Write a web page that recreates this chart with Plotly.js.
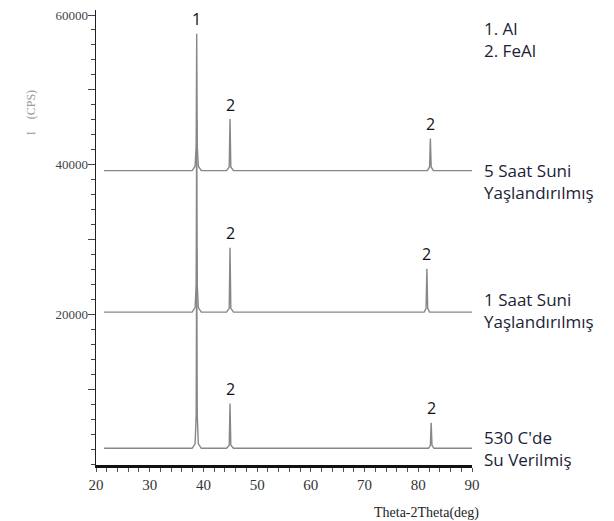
<!DOCTYPE html>
<html>
<head>
<meta charset="utf-8">
<script src="https://cdn.plot.ly/plotly-3.0.1.min.js"></script>
<style>html,body{margin:0;padding:0;background:#fff;}#chart{width:614px;height:521px;}</style>
</head>
<body>
<div id="chart"></div>
<script>
// 2-theta (deg) and intensity (CPS), one pair per sample
const thetaTop = [21.5, 37.9, 38.45, 38.65, 38.75, 38.85, 39.05, 39.6, 44.3, 44.8, 44.95, 45.1, 45.6, 81.7, 82.1, 82.25, 82.4, 82.8, 90];
const cpsTop   = [39200, 39200, 39800, 42500, 57500, 42500, 39800, 39200, 39200, 39700, 46100, 39700, 39200, 39200, 39700, 43500, 39700, 39200, 39200];

const thetaMid = [21.5, 37.9, 38.45, 38.65, 38.75, 38.85, 39.05, 39.6, 44.3, 44.8, 44.95, 45.1, 45.6, 81.1, 81.45, 81.6, 81.75, 82.1, 90];
const cpsMid   = [20300, 20300, 20900, 24000, 45900, 24000, 20900, 20300, 20300, 20800, 28900, 20800, 20300, 20300, 20800, 26100, 20800, 20300, 20300];

const thetaBot = [21.5, 37.9, 38.45, 38.65, 38.75, 38.85, 39.05, 39.6, 44.3, 44.8, 44.95, 45.1, 45.6, 81.9, 82.25, 82.4, 82.55, 82.9, 90];
const cpsBot   = [2100, 2100, 2700, 6500, 28500, 6500, 2700, 2100, 2100, 2500, 8100, 2500, 2100, 2100, 2500, 5500, 2500, 2100, 2100];

const sampleNames = ["5 Saat Suni<br>Yaşlandırılmış", "1 Saat Suni<br>Yaşlandırılmış", "530 C'de<br>Su Verilmiş"];
const phaseLegend = "1. Al<br>2. FeAl";
const xLabelVals = [20, 30, 40, 50, 60, 70, 80, 90];
const xMinorStep = 2;
const yLabelVals = [20000, 40000, 60000];
const yMediumVals = [10000, 20000, 30000, 40000, 50000, 60000];
const yMinorStep = 2000;

// build tick arrays (every minor step, labels only on labelled values)
const xTickVals = [], xTickText = [];
for (let v = 20; v <= 90; v += xMinorStep) { xTickVals.push(v); xTickText.push(xLabelVals.includes(v) ? String(v) : ''); }
const yTickVals = [], yTickText = [];
for (let v = 0; v <= 60000; v += yMinorStep) { yTickVals.push(v); yTickText.push(yLabelVals.includes(v) ? String(v) : ''); }

const lineStyle = {color: '#878787', width: 1.4};
const traces = [
  {x: thetaTop, y: cpsTop, mode: 'lines', line: lineStyle, hoverinfo: 'skip', showlegend: false},
  {x: thetaMid, y: cpsMid, mode: 'lines', line: lineStyle, hoverinfo: 'skip', showlegend: false},
  {x: thetaBot, y: cpsBot, mode: 'lines', line: lineStyle, hoverinfo: 'skip', showlegend: false},
  {x: [20], y: [0], yaxis: 'y2', mode: 'markers', marker: {opacity: 0}, hoverinfo: 'skip', showlegend: false}
];

const labFont = {family: 'Open Sans, Noto Sans, sans-serif', size: 17, color: '#1d1d35'};
const numFont = {family: 'Open Sans, Noto Sans, sans-serif', size: 16, color: '#111'};
function num(t, x, y) {
  return {text: t, x: x, y: y, xref: 'x', yref: 'y', showarrow: false, font: numFont, yanchor: 'bottom'};
}
function side(t, y) {
  return {text: t, xref: 'paper', yref: 'paper', x: 1.027, y: y, xanchor: 'left', yanchor: 'middle',
          align: 'left', showarrow: false, font: labFont};
}
const annotations = [
  num('1', 38.75, 57700),
  num('2', 44.95, 46300),
  num('2', 82.25, 43700),
  num('2', 44.95, 29100),
  num('2', 81.6, 26300),
  num('2', 44.95, 8300),
  num('2', 82.4, 5700),
  side(phaseLegend, 0.935),
  side(sampleNames[0], 0.623),
  side(sampleNames[1], 0.34),
  side(sampleNames[2], 0.036),
  {text: 'I    (CPS)', xref: 'paper', yref: 'paper', x: -0.197, y: 0.829, textangle: -90, showarrow: false,
   font: {family: 'Liberation Serif, serif', size: 12, color: '#999'}},
  {text: 'Theta-2Theta(deg)', xref: 'paper', yref: 'paper', x: 1.025, y: -0.083, xanchor: 'right', yanchor: 'top', showarrow: false,
   font: {family: 'Liberation Serif, serif', size: 14, color: '#222'}}
];

const yRange = [-130, 60670];
const layout = {
  width: 614, height: 521,
  margin: {l: 96, r: 142, t: 10, b: 56},
  paper_bgcolor: '#fff', plot_bgcolor: '#fff',
  showlegend: false,
  xaxis: {
    range: [20, 90], showgrid: false, zeroline: false,
    showline: true, linecolor: '#111', linewidth: 3,
    tickmode: 'array', tickvals: xTickVals, ticktext: xTickText, ticks: 'outside', ticklen: 4, tickcolor: '#555', tickwidth: 1,
    tickfont: {family: 'Liberation Serif, serif', size: 15, color: '#333'}
  },
  yaxis: {
    range: yRange, showgrid: false, zeroline: false,
    showline: true, linecolor: '#222', linewidth: 1.5,
    tickmode: 'array', tickvals: yTickVals, ticktext: yTickText,
    ticks: 'outside', ticklen: 4, tickcolor: '#444', tickwidth: 1,
    tickfont: {family: 'Liberation Serif, serif', size: 13, color: '#444'}
  },
  yaxis2: {
    range: yRange, overlaying: 'y', side: 'left', showgrid: false, zeroline: false, showline: false,
    tickmode: 'array', tickvals: yMediumVals, ticktext: yMediumVals.map(() => ''),
    ticks: 'outside', ticklen: 7, tickcolor: '#444', tickwidth: 1
  },
  annotations: annotations
};

Plotly.newPlot('chart', traces, layout, {displayModeBar: false, staticPlot: true});
</script>
</body>
</html>
